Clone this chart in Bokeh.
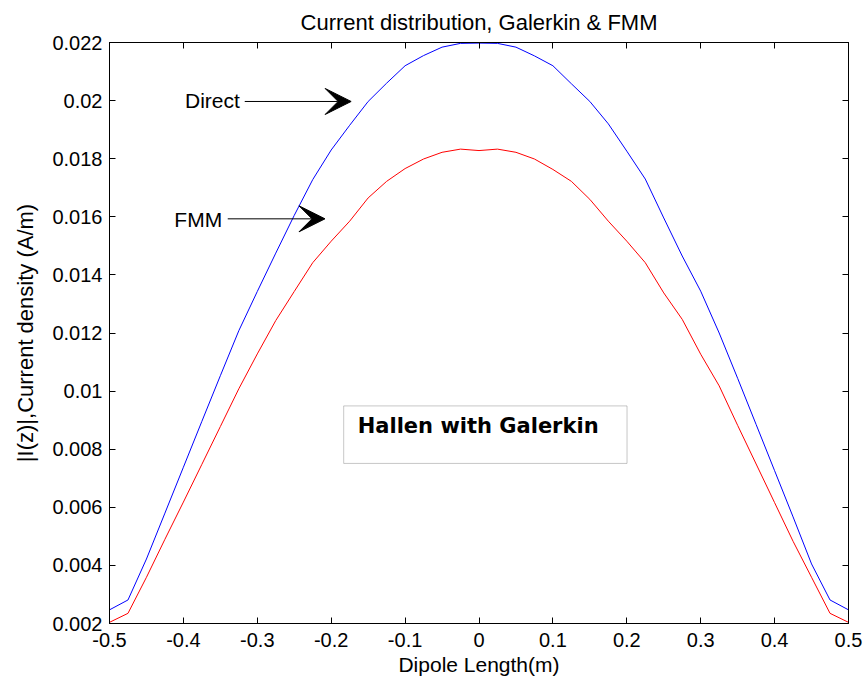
from bokeh.plotting import figure
from bokeh.models import (Range1d, LinearAxis, FixedTicker, CustomJSTickFormatter,
                          Label, Arrow, VeeHead, BoxAnnotation, ColumnDataSource)
from bokeh.embed import file_html
from bokeh.resources import INLINE

# ---- data ----
z = [-0.5, -0.475, -0.45, -0.425, -0.4, -0.375, -0.35, -0.325, -0.3, -0.275,
     -0.25, -0.225, -0.2, -0.175, -0.15, -0.125, -0.1, -0.075, -0.05, -0.025,
     0.0, 0.025, 0.05, 0.075, 0.1, 0.125, 0.15, 0.175, 0.2, 0.225,
     0.25, 0.275, 0.3, 0.325, 0.35, 0.375, 0.4, 0.425, 0.45, 0.475, 0.5]

direct = [0.00247, 0.00281, 0.00422, 0.00580, 0.00738, 0.00896, 0.01053, 0.01208, 0.01343, 0.01475,
          0.01605, 0.01728, 0.01830, 0.01915, 0.01997, 0.02060, 0.02120, 0.02155, 0.02184, 0.02197,
          0.02198, 0.02197, 0.02184, 0.02154, 0.02120, 0.02058, 0.01997, 0.01920, 0.01826, 0.01730,
          0.01596, 0.01465, 0.01344, 0.01200, 0.01044, 0.00885, 0.00726, 0.00567, 0.00405, 0.00281, 0.00247]

fmm = [0.00204, 0.00235, 0.00359, 0.00490, 0.00618, 0.00748, 0.00878, 0.01008, 0.01128, 0.01243,
       0.01343, 0.01442, 0.01516, 0.01585, 0.01665, 0.01722, 0.01766, 0.01799, 0.01822, 0.01833,
       0.01828, 0.01833, 0.01822, 0.01799, 0.01763, 0.01722, 0.01660, 0.01585, 0.01516, 0.01442,
       0.01338, 0.01247, 0.01127, 0.01018, 0.00882, 0.00749, 0.00616, 0.00483, 0.00359, 0.00235, 0.00204]

x_ticks = [-0.5, -0.4, -0.3, -0.2, -0.1, 0.0, 0.1, 0.2, 0.3, 0.4, 0.5]
y_ticks = [0.002, 0.004, 0.006, 0.008, 0.010, 0.012, 0.014, 0.016, 0.018, 0.020, 0.022]

title_text = "Current distribution, Galerkin & FMM"
x_label = "Dipole Length(m)"
y_label = "|I(z)|,Current density (A/m)"

FONT = "Liberation Sans"

src = ColumnDataSource(data=dict(z=z, direct=direct, fmm=fmm))

p = figure(width=866, height=688, output_backend="svg", toolbar_location=None,
           x_range=Range1d(-0.5, 0.5), y_range=Range1d(0.002, 0.022),
           min_border_left=109, min_border_right=18, min_border_top=41, min_border_bottom=65,
           title=title_text)

p.title.text_font = FONT
p.title.text_font_size = "22px"
p.title.text_font_style = "normal"
p.title.align = "center"
p.title.standoff = 15
p.title.text_color = "black"

p.background_fill_color = "white"
p.border_fill_color = "white"
p.outline_line_color = "black"
p.outline_line_width = 1
p.xgrid.visible = False
p.ygrid.visible = False

fmt_x = CustomJSTickFormatter(code="return parseFloat(tick.toFixed(3)).toString();")
fmt_y = CustomJSTickFormatter(code="return parseFloat(tick.toFixed(4)).toString();")
fmt_blank = CustomJSTickFormatter(code="return '';")

for ax, ticks, fmt in ((p.xaxis[0], x_ticks, fmt_x), (p.yaxis[0], y_ticks, fmt_y)):
    ax.ticker = FixedTicker(ticks=ticks)
    ax.formatter = fmt
    ax.major_tick_in = 6
    ax.major_tick_out = 0
    ax.minor_tick_line_color = None
    ax.axis_line_color = "black"
    ax.major_tick_line_color = "black"
    ax.major_label_text_font = FONT
    ax.major_label_text_font_size = "20px"
    ax.major_label_text_color = "black"
    ax.axis_label_text_font = FONT
    ax.axis_label_text_font_style = "normal"
    ax.axis_label_text_color = "black"

p.xaxis.axis_label = x_label
p.yaxis.axis_label = y_label
p.xaxis.axis_label_text_font_size = "21px"
p.yaxis.axis_label_text_font_size = "22px"
p.xaxis.major_label_standoff = 9
p.xaxis.axis_label_standoff = 3
p.yaxis.major_label_standoff = 7
p.yaxis.axis_label_standoff = 11

# mirrored tick-only axes on top and right (box style)
top_ax = LinearAxis(ticker=FixedTicker(ticks=x_ticks), formatter=fmt_blank,
                    major_tick_in=6, major_tick_out=0,
                    minor_tick_line_color=None, axis_line_color="black",
                    major_label_standoff=0)
right_ax = LinearAxis(ticker=FixedTicker(ticks=y_ticks), formatter=fmt_blank,
                      major_tick_in=6, major_tick_out=0,
                      minor_tick_line_color=None, axis_line_color="black",
                      major_label_standoff=0)
p.add_layout(top_ax, "above")
p.add_layout(right_ax, "right")

p.line("z", "direct", source=src, line_color="#0000FF", line_width=1)
p.line("z", "fmm", source=src, line_color="#FF0000", line_width=1)

# annotations
p.add_layout(Label(x=-0.3978, y=0.0200, text="Direct", text_baseline="middle",
                   text_font=FONT, text_font_size="21px", text_color="black"))
p.add_layout(Arrow(end=VeeHead(size=26, fill_color="black", line_color="black"),
                   x_start=-0.317, y_start=0.01997, x_end=-0.173, y_end=0.01997,
                   line_color="black", line_width=1))
p.add_layout(Label(x=-0.4123, y=0.01591, text="FMM", text_baseline="middle",
                   text_font=FONT, text_font_size="21px", text_color="black"))
p.add_layout(Arrow(end=VeeHead(size=26, fill_color="black", line_color="black"),
                   x_start=-0.340, y_start=0.01593, x_end=-0.2084, y_end=0.01593,
                   line_color="black", line_width=1))

p.add_layout(BoxAnnotation(left=-0.1831, right=0.2003, bottom=0.00751, top=0.00949,
                           fill_color=None, fill_alpha=0, line_color="#444444", line_width=1))
p.add_layout(Label(x=-0.1641, y=0.0088, text="Hallen with Galerkin", text_baseline="middle",
                   text_font="DejaVu Sans", text_font_style="bold", text_font_size="21px",
                   text_color="black"))

open("out.html", "w").write(file_html(p, INLINE))
